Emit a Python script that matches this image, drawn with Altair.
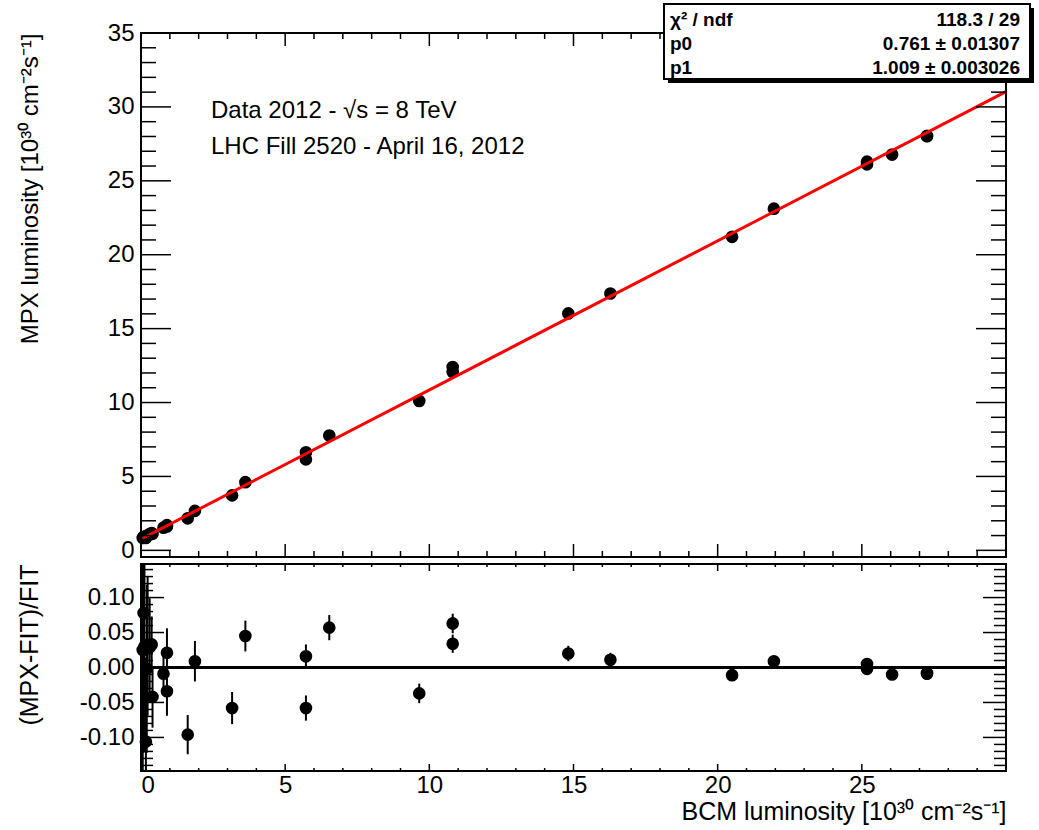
import altair as alt
import pandas as pd

# ---------------- data ----------------
bcm_lumi = [0.06, 0.09, 0.12, 0.17, 0.20, 0.23, 0.30, 0.37, 0.40, 0.78, 0.90, 0.90,
            1.62, 1.87, 3.16, 3.62, 5.72, 5.72, 6.53, 9.65, 10.81, 10.81, 14.82, 16.28,
            20.50, 21.95, 25.18, 25.18, 26.05, 27.26, 27.26]
mpx_lumi = [0.842, 0.918, 0.909, 0.834, 0.961, 1.024, 1.095, 1.172, 1.116, 1.534, 1.704, 1.612,
            2.166, 2.672, 3.720, 4.612, 6.637, 6.154, 7.769, 10.109, 12.403, 12.065, 16.028, 17.377,
            21.210, 23.115, 26.299, 26.116, 26.775, 28.040, 28.012]
resid = [0.025, 0.078, 0.030, -0.106, -0.002, 0.031, 0.029, 0.033, -0.042, -0.009, 0.021, -0.034,
         -0.096, 0.009, -0.058, 0.045, 0.016, -0.058, 0.057, -0.037, 0.063, 0.034, 0.020, 0.011,
         -0.011, 0.009, 0.005, -0.002, -0.010, -0.008, -0.009]
resid_err = [0.20, 0.20, 0.15, 0.12, 0.12, 0.10, 0.07, 0.04, 0.044, 0.03, 0.035, 0.035,
             0.028, 0.029, 0.023, 0.022, 0.017, 0.018, 0.018, 0.014, 0.014, 0.013, 0.011, 0.010,
             0.008, 0.008, 0.007, 0.007, 0.007, 0.007, 0.007]
fit_x = [0.06, 30.0]
fit_y = [0.82, 31.03]

x_major = [0, 5, 10, 15, 20, 25, 30]
x_minor = [v for v in range(0, 31) if v % 5]
x_labels = [0, 5, 10, 15, 20, 25]
top_y_major = [0, 5, 10, 15, 20, 25, 30, 35]
top_y_minor = [v for v in range(0, 36) if v % 5]
res_major = [-0.10, -0.05, 0.0, 0.05, 0.10]
res_minor = [round(-0.14 + 0.01 * i, 2) for i in range(29) if (i - 14) % 5]

stats_rows = ["\u03c7\u00b2 / ndf", "p0", "p1"]
stats_vals = ["118.3 / 29", "0.761 \u00b1 0.01307", "1.009 \u00b1 0.003026"]

FONT = "Liberation Sans"
W, H1, H2 = 865, 524, 207

xs = alt.Scale(domain=[0, 30], nice=False, zero=False)
ys1 = alt.Scale(domain=[-0.45, 35], nice=False, zero=False)
ys2 = alt.Scale(domain=[-0.148, 0.148], nice=False, zero=False)

AX_Y1 = alt.Axis(
    values=top_y_major, labelPadding=7, format="d",
    title="MPX luminosity [10\u00b3\u2070 cm\u207b\u00b2s\u207b\u00b9]",
    titleAngle=270, titleAlign="right", titleBaseline="alphabetic",
    titleX=-104, titleY=0)
AX_X2 = alt.Axis(
    values=x_labels, labelPadding=2, format="d",
    title="BCM luminosity [10\u00b3\u2070 cm\u207b\u00b2s\u207b\u00b9]",
    titleAlign="right", titleBaseline="alphabetic", titleX=W, titleY=48, titleFontSize=25)
AX_Y2 = alt.Axis(
    values=res_major, labelPadding=7,
    labelExpr="(datum.value < 0 ? '-' : '') + format(abs(datum.value), '.2f')",
    title="(MPX-FIT)/FIT", titleFontSize=25,
    titleAngle=270, titleAlign="right", titleBaseline="alphabetic",
    titleX=-104, titleY=0)

df = pd.DataFrame({"x": bcm_lumi, "y": mpx_lumi, "r": resid, "e": resid_err})
df["lo"] = df["r"] - df["e"]
df["hi"] = df["r"] + df["e"]
one = alt.Data(values=[{}])


def ticks_y(vals, scale, axis, length, width):
    d = pd.DataFrame({"v": vals})
    out = []
    for a, b in ((0, length), (width - length, width)):
        out.append(alt.Chart(d).mark_rule(color="black", strokeWidth=1.5).encode(
            y=alt.Y("v:Q", scale=scale, axis=axis), x=alt.value(a), x2=alt.value(b)))
    return out


def ticks_x(vals, xaxis, length, height):
    d = pd.DataFrame({"v": vals})
    out = []
    for a, b in ((0, length), (height - length, height)):
        out.append(alt.Chart(d).mark_rule(color="black", strokeWidth=1.5).encode(
            x=alt.X("v:Q", scale=xs, axis=xaxis), y=alt.value(a), y2=alt.value(b)))
    return out


# ---------------- top panel ----------------
bound = alt.Chart(one).mark_rect(color="white").encode(
    x=alt.value(-140), x2=alt.value(-139), y=alt.value(-32), y2=alt.value(-31))

points = alt.Chart(df).mark_circle(size=160, color="black", opacity=1).encode(
    x=alt.X("x:Q", scale=xs, axis=None),
    y=alt.Y("y:Q", scale=ys1, axis=AX_Y1))

fit = alt.Chart(pd.DataFrame({"x": fit_x, "y": fit_y})).mark_line(
    color="#ff0000", strokeWidth=3).encode(
    x=alt.X("x:Q", scale=xs, axis=None), y=alt.Y("y:Q", scale=ys1, axis=AX_Y1))

txt1 = alt.Chart(one).mark_text(align="left", baseline="alphabetic", fontSize=24, font=FONT).encode(
    x=alt.value(70), y=alt.value(85), text=alt.value("Data 2012 - \u221as = 8 TeV"))
txt2 = alt.Chart(one).mark_text(align="left", baseline="alphabetic", fontSize=24, font=FONT).encode(
    x=alt.value(70), y=alt.value(121), text=alt.value("LHC Fill 2520 - April 16, 2012"))

shadow = alt.Chart(one).mark_rect(color="black").encode(
    x=alt.value(527), x2=alt.value(893), y=alt.value(-25), y2=alt.value(50))
box = alt.Chart(one).mark_rect(fill="white", stroke="black", strokeWidth=2).encode(
    x=alt.value(523), x2=alt.value(889), y=alt.value(-29), y2=alt.value(46))

stats_layers = []
for i, (lab, val) in enumerate(zip(stats_rows, stats_vals)):
    yb = -7 + 24 * i
    stats_layers.append(alt.Chart(one).mark_text(
        align="left", baseline="alphabetic", fontSize=19, fontWeight="bold", font=FONT).encode(
        x=alt.value(529), y=alt.value(yb), text=alt.value(lab)))
    stats_layers.append(alt.Chart(one).mark_text(
        align="right", baseline="alphabetic", fontSize=19, fontWeight="bold", font=FONT).encode(
        x=alt.value(879), y=alt.value(yb), text=alt.value(val)))

top = alt.layer(
    bound, points, fit,
    *ticks_y(top_y_major, ys1, AX_Y1, 30, W), *ticks_y(top_y_minor, ys1, AX_Y1, 15, W),
    *ticks_x(x_major, None, 13, H1), *ticks_x(x_minor, None, 6, H1),
    txt1, txt2, shadow, box, *stats_layers
).properties(width=W, height=H1)

# ---------------- residual panel ----------------
bound2 = alt.Chart(one).mark_rect(color="white").encode(
    x=alt.value(-140), x2=alt.value(-139), y=alt.value(0), y2=alt.value(1))

zero = alt.Chart(pd.DataFrame({"x0": [0], "x1": [30], "r": [0.0]})).mark_rule(
    color="black", strokeWidth=3).encode(
    x=alt.X("x0:Q", scale=xs, axis=AX_X2), x2="x1:Q", y=alt.Y("r:Q", scale=ys2, axis=AX_Y2))

errs = alt.Chart(df).mark_rule(color="black", strokeWidth=2, clip=True).encode(
    x=alt.X("x:Q", scale=xs, axis=AX_X2), y=alt.Y("lo:Q", scale=ys2, axis=AX_Y2), y2="hi:Q")

rpoints = alt.Chart(df).mark_circle(size=160, color="black", opacity=1).encode(
    x=alt.X("x:Q", scale=xs, axis=AX_X2),
    y=alt.Y("r:Q", scale=ys2, axis=AX_Y2))

bottom = alt.layer(
    bound2, zero, errs, rpoints,
    *ticks_y(res_major, ys2, AX_Y2, 23, W), *ticks_y(res_minor, ys2, AX_Y2, 12, W),
    *ticks_x(x_major, AX_X2, 7, H2), *ticks_x(x_minor, AX_X2, 3, H2),
).properties(width=W, height=H2)

chart = alt.vconcat(top, bottom, spacing=7, bounds="flush").properties(
    padding=0, background="white"
).configure(font=FONT).configure_view(
    stroke="black", strokeWidth=2
).configure_axis(
    labelFont=FONT, labelFontSize=24, labelColor="black",
    titleFont=FONT, titleFontSize=24, titleFontWeight="normal", titleColor="black",
    domain=False, ticks=False, grid=False
)

chart.save("out.html", embed_options={"renderer": "svg", "actions": False})
